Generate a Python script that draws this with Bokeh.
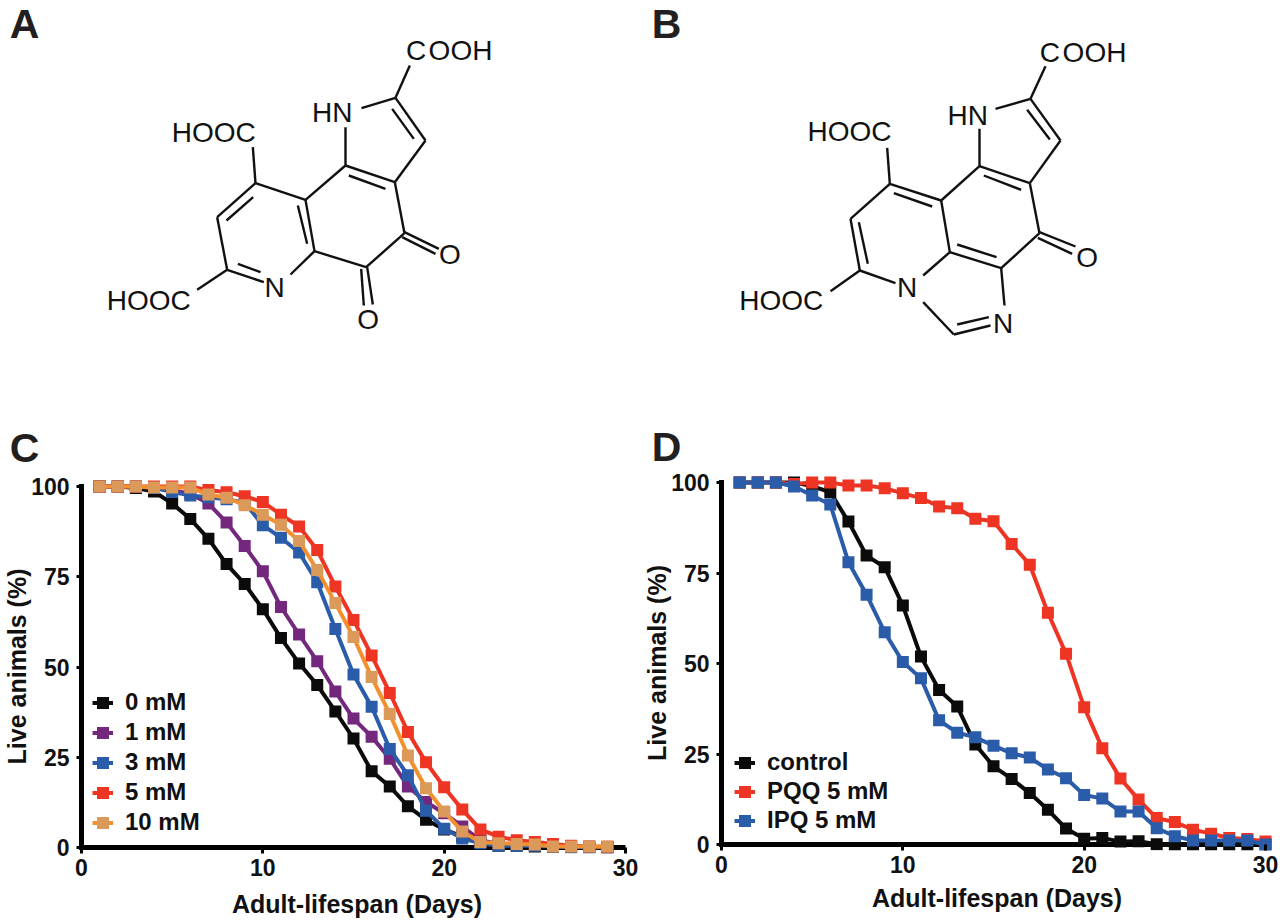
from bokeh.plotting import figure
from bokeh.layouts import column, row
from bokeh.models import Range1d, Legend, LegendItem, FixedTicker
from bokeh.core.properties import value
from bokeh.embed import file_html
from bokeh.resources import INLINE

FONT = "Liberation Sans"
INK = "#111111"

# ---------- panel C ----------
days_c = list(range(1, 30))
c_0mM = [100,100,99.6,98.6,95.3,91,85.5,78.5,73,66,58,51,45,37.7,30.2,21.1,16.9,11.4,7.7,5,3,1.5,0.5,0.5,0.3,0.2,0.1,0.1,0]
c_1mM = [100,100,100,99.6,99,98,95.3,90,83.5,76.5,66.6,59,51.6,43.2,35.7,30.7,24.6,16.9,12.6,9.5,5.8,2,1,1,0.8,0.5,0.3,0.2,0.1]
c_3mM = [100,100,100,99.6,98.5,97.5,97,96.5,95.5,89.3,85.8,81.7,73.5,60.5,47.9,39,27.3,20,10.2,5.2,2.5,1.2,0.5,0.5,0.5,0.3,0.2,0.1,0.1]
c_5mM = [100,100,100,100,100,100,99,98.4,97.3,95.7,92.2,88.9,82.4,72.3,63,53.2,42.8,32,23.6,16.7,10.5,5,3,2,1.5,1,0.5,0.3,0.2]
c_10mM = [100,100,100,99.7,99.7,99.7,97.8,96.9,94.8,92.2,89.4,84.9,76.9,67.7,58.3,47.2,37,25.5,16.4,10,4.4,1.5,1.2,1,0.8,0.3,0.3,0.3,0.3]

# ---------- panel D ----------
days_d = list(range(1, 31))
d_control = [100,100,100,100,99,97.3,89.2,79.8,76.6,66,51.9,42.7,38.1,27.6,21.6,18.1,14.2,9.6,4.4,1.6,1.8,0.8,0.9,0.1,0,0,0,0,0,0]
d_pqq = [100,100,100,99.6,100,100,99.2,99.2,98.4,97,95.7,93.4,92.9,90,89.3,83,77.3,64,52.7,37.9,26.6,18.2,12.4,7.3,6.2,4.1,3,1.8,1.5,0.8]
d_ipq = [100,100,100,98.9,96.4,93.9,78,69,58.6,50.4,45.9,34.3,30.9,29.6,27.3,25.2,24,20.7,18.3,13.7,12.7,9.1,9.1,4.5,2.3,1.1,1.1,1.1,1.1,0]

series_c = [("0 mM", c_0mM, "#0b0b0b", "#0b0b0b"), ("1 mM", c_1mM, "#74287d", "#74287d"),
            ("3 mM", c_3mM, "#2b5ca9", "#2b5ca9"), ("5 mM", c_5mM, "#ee3524", "#ee3524"),
            ("10 mM", c_10mM, "#f3902e", "#dc9a5a")]
series_d = [("control", d_control, "#0b0b0b", "#0b0b0b"), ("PQQ 5 mM", d_pqq, "#ee3524", "#ee3524"),
            ("IPQ 5 mM", d_ipq, "#2b5ca9", "#2b5ca9")]

x_ticks = [0, 10, 20, 30]
y_ticks = [0, 25, 50, 75, 100]
x_title = "Adult-lifespan (Days)"
y_title = "Live animals (%)"

# ---------- structures A and B: drawing coordinates on a 3x sheet ----------
bonds_a = [
    [(757,440),(765,548)], [(765,548),(650,650)], [(758,590),(678,660)], [(650,650),(680,808)],
    [(680,808),(790,845)], [(712,790),(780,815)], [(870,822),(942,752)], [(942,752),(915,598)],
    [(920,730),(892,615)], [(915,598),(765,548)], [(915,598),(1035,495)], [(1035,495),(1183,545)],
    [(1045,525),(1155,565)], [(1183,545),(1275,420)], [(1275,420),(1185,292)], [(1240,415),(1175,325)],
    [(1185,292),(1083,323)], [(1185,292),(1228,195)], [(1035,495),(1035,380)], [(1183,545),(1212,698)],
    [(1212,698),(1097,800)], [(942,752),(1097,800)], [(1212,695),(1315,745)], [(1205,710),(1305,760)],
    [(1082,805),(1090,915)], [(1100,800),(1117,912)], [(680,808),(590,868)],
]
atoms_a = [("C",1247,150),("OOH",1380,150),("HOOC",640,395),("HOOC",445,900),("HN",995,337),
           ("N",822,862),("O",1348,762),("O",1103,958)]
bonds_b = [
    [(740,442),(748,550)], [(748,550),(630,655)], [(748,550),(902,600)], [(760,578),(875,618)],
    [(902,600),(1017,497)], [(630,655),(658,810)], [(655,665),(682,790)], [(658,810),(765,848)],
    [(658,810),(570,872)], [(902,600),(928,755)], [(928,755),(848,825)], [(928,755),(1082,803)],
    [(950,732),(1068,770)], [(1017,497),(1168,548)], [(1030,525),(1142,568)], [(1168,548),(1260,420)],
    [(1260,420),(1170,295)], [(1228,417),(1160,328)], [(1017,497),(1017,385)], [(1170,295),(1065,325)],
    [(1170,295),(1215,197)], [(1168,548),(1197,698)], [(1197,698),(1082,803)], [(1082,803),(1092,915)],
    [(1197,695),(1305,738)], [(1192,712),(1295,760)], [(848,905),(940,1002)], [(940,1002),(1050,975)],
    [(950,972),(1045,950)],
]
atoms_b = [("C",1228,155),("OOH",1362,155),("HOOC",627,393),("HOOC",422,900),("HN",982,345),
           ("N",800,862),("N",1088,968),("O",1340,770)]
panel_letters = [("A",24,23),("B",666,23),("C",24,447),("D",666,446)]

W, H, TOP_H = 1280, 922, 470
top = figure(width=W, height=TOP_H, output_backend="svg", toolbar_location=None,
             x_range=Range1d(0, W), y_range=Range1d(TOP_H, 0),
             min_border_left=0, min_border_right=0, min_border_top=0, min_border_bottom=0,
             outline_line_color=None)
top.xaxis.visible = False
top.yaxis.visible = False
top.grid.visible = False


def structure(bonds, atoms, ox):
    top.multi_line([[ox + p[0] / 3 for p in b] for b in bonds], [[p[1] / 3 for p in b] for b in bonds],
                   line_color="#111111", line_width=2.4)
    top.text([ox + a[1] / 3 for a in atoms], [a[2] / 3 for a in atoms], text=[a[0] for a in atoms],
             text_font=value(FONT), text_font_size="28px", text_color="#111111",
             text_align="center", text_baseline="middle")


structure(bonds_a, atoms_a, 0)
structure(bonds_b, atoms_b, 640)
top.text([a[1] for a in panel_letters], [a[2] for a in panel_letters], text=[a[0] for a in panel_letters],
         text_font=value(FONT), text_font_size="41px", text_font_style="bold", text_color="#231f20",
         text_align="center", text_baseline="middle")


def survival(series, days, x0, x30px, y0, y100px, right, fig_left, leg_xy, spacing, title_gap):
    fig_width = 640
    fig_top, fig_bottom = TOP_H, H
    top_px, bot_px = y100px - 7, y0 + 6
    ppx = (x30px - x0) / 30
    ppy = (y0 - y100px) / 100
    p = figure(width=fig_width, height=fig_bottom - fig_top, output_backend="svg", toolbar_location=None,
               x_range=Range1d(0, (right - x0) / ppx),
               y_range=Range1d((y0 - bot_px) / ppy, (y0 - top_px) / ppy),
               min_border_left=x0 - fig_left, min_border_right=fig_left + fig_width - right,
               min_border_top=top_px - fig_top, min_border_bottom=fig_bottom - bot_px,
               outline_line_color=None, background_fill_color=None, border_fill_color=None)
    p.grid.visible = False
    xa, ya = p.xaxis[0], p.yaxis[0]
    ya.bounds = (0, 100)
    xa.ticker = FixedTicker(ticks=x_ticks)
    ya.ticker = FixedTicker(ticks=y_ticks)
    xa.axis_label = x_title
    ya.axis_label = y_title
    for a in (xa, ya):
        a.axis_line_color = "black"
        a.major_tick_line_width = 3
        a.major_tick_line_color = "black"
        a.minor_tick_line_color = None
        a.major_label_text_font = FONT
        a.major_label_text_font_size = "23px"
        a.major_label_text_font_style = "bold"
        a.major_label_text_color = INK
        a.axis_label_text_font = FONT
        a.axis_label_text_font_size = "25px"
        a.axis_label_text_font_style = "bold"
        a.axis_label_text_color = INK
    # the left axis sits on the frame edge; the bottom frame edge lies just under day-axis zero,
    # so the markers on the zero line are not clipped, and its ticks reach up to that line
    ya.axis_line_width = 5
    ya.axis_line_cap = "square"
    ya.major_tick_out = 5
    ya.major_tick_in = 0
    ya.major_label_standoff = 7
    ya.axis_label_standoff = -3
    xa.axis_line_color = None
    xa.major_tick_in = 6
    xa.major_tick_out = 0
    xa.major_label_standoff = 5
    xa.axis_label_standoff = title_gap
    p.segment([x_ticks[0]], [0], [x_ticks[-1]], [0], line_color="black", line_width=5, level="underlay")
    items = []
    for name, vals, lc, mc in series:
        ln = p.line(days, vals, line_color=lc, line_width=4, line_join="miter")
        # a legend draws a scatter at 0.4 of its glyph box, so the marker takes its full size from the outline
        sc = p.scatter(days, vals, marker="square", size=8.4, fill_color=mc, line_color=mc, line_width=3.6,
                       line_join="miter")
        items.append(LegendItem(label=name, renderers=[ln, sc]))
    leg = Legend(items=items, location=leg_xy, orientation="vertical", padding=0, margin=0, spacing=spacing,
                 glyph_width=21, glyph_height=21, label_standoff=12, border_line_color=None,
                 background_fill_color=None, background_fill_alpha=0,
                 label_text_font=FONT, label_text_font_size="24px", label_text_font_style="bold",
                 label_text_color=INK)
    p.add_layout(leg)
    return p


pc = survival(series_c, days_c, 81, 625, 847, 486, 632, 0, (11, 17), 2, 11)
pd_ = survival(series_d, days_d, 720, 1265, 844, 482, 1272, 640, (13, 16), 1, 8)

# each figure in its own column, so that the row does not line up their differing frames
page = column(top, row(column(pc), column(pd_), spacing=0), spacing=0)
open("out.html", "w").write(file_html(page, INLINE))
